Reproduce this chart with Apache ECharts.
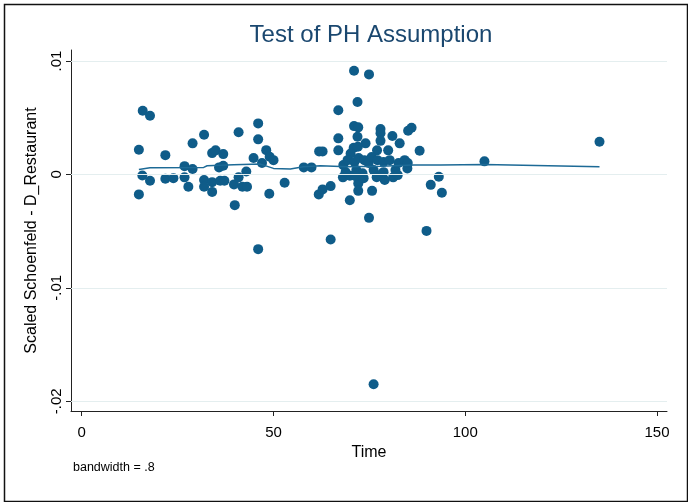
<!DOCTYPE html>
<html>
<head>
<meta charset="utf-8">
<script src="https://cdn.jsdelivr.net/npm/echarts@6/dist/echarts.min.js"></script>
<style>
html,body{margin:0;padding:0;background:#fff;}
#c{width:688px;height:502px;}
</style>
</head>
<body>
<div id="c"></div>
<script>
// Scaled Schoenfeld residuals (values in thousandths) vs Time
const pointTime = [
15.9,17.8,14.9,21.8,28.9,31.9,40.9,46.0,46.0,34.0,34.9,36.9,48.1,49.0,50.0,44.8,47.0,26.8,28.9,35.8,36.9,42.9,
15.8,17.8,21.8,23.9,26.8,27.8,31.9,31.9,34.0,34.0,36.1,37.2,39.7,40.9,41.9,43.1,39.9,14.9,48.9,52.9,46.0,
71.0,74.9,71.9,66.9,71.0,72.1,77.9,77.9,86.0,85.1,66.9,71.9,81.0,77.9,74.0,82.9,61.9,62.8,66.9,70.9,72.0,70.1,77.0,79.9,88.1,
57.9,59.9,68.1,69.9,72.1,72.1,69.9,75.7,74.9,64.9,61.8,62.8,64.9,91.0,93.1,93.9,89.9,84.9,79.0,81.2,105.0,135.0,76.1,
68.2,69.3,71.1,71.6,72.2,73.2,73.7,74.8,75.6,76.1,77.1,78.2,78.7,80.3,81.8,82.6,84.2,85.0,
71.4,73.5,76.9,78.7,82.4,68.8
];
const pointValue = [
5.61,5.17,2.17,1.70,2.74,3.49,3.71,4.50,3.09,1.88,2.12,1.79,2.14,1.55,1.26,1.44,1.00,0.73,0.47,0.62,0.76,0.26,
-0.09,-0.56,-0.39,-0.33,-0.26,-1.09,-0.50,-1.09,-0.68,-1.54,-0.56,-0.56,-0.88,-0.26,-1.09,-1.09,-2.71,-1.76,-1.71,-0.74,-6.59,
9.14,8.82,6.38,5.65,4.26,4.15,4.00,3.64,4.11,3.85,3.18,3.32,3.38,2.96,2.74,2.74,2.03,2.03,2.12,2.35,2.44,1.85,2.12,2.12,2.08,
0.62,0.62,-0.26,-0.12,-0.79,-1.45,-2.27,-1.45,-3.83,-5.74,-1.76,-1.32,-1.03,-0.92,-0.21,-1.62,-4.98,0.53,-0.50,-0.26,1.15,2.88,-18.50,
0.82,1.26,1.09,0.38,1.44,0.11,1.26,1.00,1.53,0.38,1.26,0.03,1.09,1.26,0.38,1.00,1.26,1.00,
-0.15,-0.33,-0.24,0.20,-0.06,0.20
];
// lowess smooth (bandwidth .8), values in thousandths
const lowessTime  = [14.9,17.8,31.8,32.7,39.6,46.6,50.0,54.4,57.8,62.2,69.2,77.9,86.6,93.6,105.0,135.0];
const lowessValue = [0.44,0.58,0.62,0.76,0.85,0.91,0.53,0.47,0.67,0.76,0.67,0.73,0.82,0.82,0.88,0.67];

const xTickValues = [0,50,100,150];
const xTickLabels = ['0','50','100','150'];
const yTickValues = [-0.02,-0.01,0,0.01];
const yTickLabels = ['-.02','-.01','0','.01'];

const titleText = 'Test of PH Assumption';
const yTitle = 'Scaled Schoenfeld - D_Restaurant';
const xTitle = 'Time';
const noteText = 'bandwidth = .8';

const BLUE = '#0f5c89';
const FONT = '"Liberation Sans", Arial, sans-serif';

function labelFor(vals, labs){
  return function(v){
    for (let i=0;i<vals.length;i++){ if (Math.abs(vals[i]-v) < 1e-7) return labs[i]; }
    return '';
  };
}

const scatterData = pointTime.map((t,i)=>[t, pointValue[i]/1000]);
const lineData = lowessTime.map((t,i)=>[t, lowessValue[i]/1000]);

const chart = echarts.init(document.getElementById('c'), null, {renderer:'canvas'});
chart.setOption({
  backgroundColor:'#ffffff',
  animation:false,
  title:{
    text: titleText, left: 366, top: 18, textAlign:'center',
    textStyle:{fontFamily:FONT, fontSize:24, fontWeight:'normal', color:'#1a476f'}
  },
  grid:{left:71, right:21, top:50, bottom:91, containLabel:false},
  xAxis:{
    type:'value', min:-2.8, max:152.6,
    name: xTitle, nameLocation:'middle', nameGap:31,
    nameTextStyle:{fontFamily:FONT, fontSize:16, color:'#000'},
    axisLine:{show:true, onZero:false, lineStyle:{color:'#222', width:1}},
    axisTick:{show:true, length:5, customValues:xTickValues, lineStyle:{color:'#222'}},
    axisLabel:{show:true, customValues:xTickValues, formatter:labelFor(xTickValues,xTickLabels),
      fontFamily:FONT, fontSize:15, color:'#000', margin:14},
    splitLine:{show:false}
  },
  yAxis:{
    type:'value', min:-0.02086, max:0.01097,
    name: yTitle, nameLocation:'middle', nameGap:31, nameRotate:90,
    nameTextStyle:{fontFamily:FONT, fontSize:16, color:'#000'},
    axisLine:{show:true, onZero:false, lineStyle:{color:'#222', width:1}},
    axisTick:{show:true, length:5, customValues:yTickValues, lineStyle:{color:'#222'}},
    axisLabel:{show:true, customValues:yTickValues, rotate:90, formatter:labelFor(yTickValues,yTickLabels),
      fontFamily:FONT, fontSize:15, color:'#000', margin:7},
    splitLine:{show:false}
  },
  series:[
    {
      type:'line', data:[], z:0, silent:true,
      markLine:{
        silent:true, symbol:['none','none'], animation:false,
        label:{show:false},
        lineStyle:{color:'#e4eeef', width:1, type:'solid'},
        data: yTickValues.map(v=>({yAxis:v}))
      }
    },
    {
      type:'scatter', data:scatterData, symbol:'circle', symbolSize:10, z:2,
      itemStyle:{color:BLUE, opacity:1}
    },
    {
      type:'line', data:lineData, showSymbol:false, smooth:false, z:3,
      lineStyle:{color:'#1d6a96', width:1.5}
    }
  ],
  graphic:[
    {type:'rect', left:2, top:2, shape:{width:683, height:497}, style:{fill:'none', stroke:'#111', lineWidth:1.5}, silent:true},
    {type:'text', left:73, top:461, style:{text:noteText, fontFamily:FONT, fontSize:12.5, fill:'#000'}}
  ]
});
</script>
</body>
</html>
